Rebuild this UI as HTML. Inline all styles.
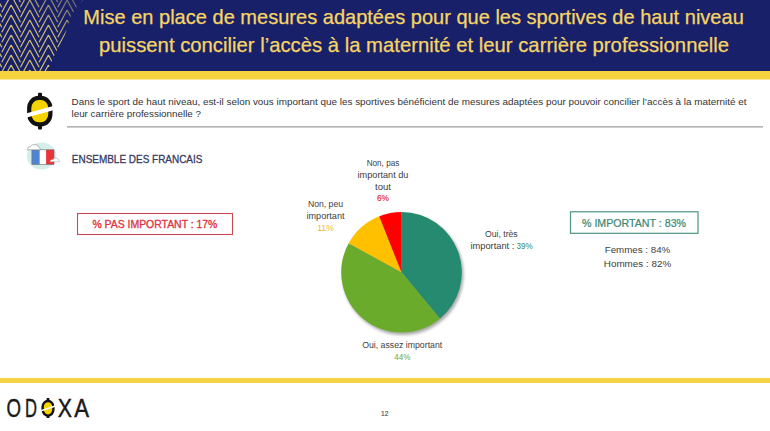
<!DOCTYPE html>
<html><head><meta charset="utf-8">
<style>
html,body{margin:0;padding:0;background:#fff;}
body{width:770px;height:431px;overflow:hidden;position:relative;font-family:"Liberation Sans",sans-serif;}
svg{position:absolute;left:0;top:0;}
</style></head><body>
<svg width="770" height="431" viewBox="0 0 770 431" font-family="Liberation Sans, sans-serif">
<defs>
<clipPath id="pc"><polygon points="0,0 83,0 71,15 65,35 57,50 47,71 0,71"/></clipPath>
<linearGradient id="pg" x1="0" y1="1" x2="1" y2="0"><stop offset="0.55" stop-color="#fff"/><stop offset="1" stop-color="#555"/></linearGradient><mask id="pm" maskUnits="userSpaceOnUse" x="0" y="0" width="90" height="71"><rect x="0" y="0" width="90" height="71" fill="url(#pg)"/></mask>
<filter id="sh" x="-20%" y="-20%" width="140%" height="140%"><feGaussianBlur stdDeviation="1.5"/></filter>
</defs>
<!-- header -->
<rect x="0" y="0" width="770" height="71" fill="#19206a"/>
<g clip-path="url(#pc)" mask="url(#pm)"><path d="M-7.56,-10.00L1.77,7.26M1.77,12.26L11.10,-5.00M-7.56,0.00L1.77,17.26M1.77,22.26L11.10,5.00M-7.56,10.00L1.77,27.26M1.77,32.26L11.10,15.00M-7.56,20.00L1.77,37.26M1.77,42.26L11.10,25.00M-7.56,30.00L1.77,47.26M1.77,52.26L11.10,35.00M-7.56,40.00L1.77,57.26M1.77,62.26L11.10,45.00M-7.56,50.00L1.77,67.26M1.77,72.26L11.10,55.00M-7.56,60.00L1.77,77.26M1.77,82.26L11.10,65.00M-7.56,70.00L1.77,87.26M1.77,92.26L11.10,75.00M11.10,-15.00L20.43,2.26M20.43,7.26L29.76,-10.00M11.10,-5.00L20.43,12.26M20.43,17.26L29.76,0.00M11.10,5.00L20.43,22.26M20.43,27.26L29.76,10.00M11.10,15.00L20.43,32.26M20.43,37.26L29.76,20.00M11.10,25.00L20.43,42.26M20.43,47.26L29.76,30.00M11.10,35.00L20.43,52.26M20.43,57.26L29.76,40.00M11.10,45.00L20.43,62.26M20.43,67.26L29.76,50.00M11.10,55.00L20.43,72.26M20.43,77.26L29.76,60.00M11.10,65.00L20.43,82.26M20.43,87.26L29.76,70.00M11.10,75.00L20.43,92.26M20.43,97.26L29.76,80.00M29.76,-10.00L39.09,7.26M39.09,12.26L48.42,-5.00M29.76,0.00L39.09,17.26M39.09,22.26L48.42,5.00M29.76,10.00L39.09,27.26M39.09,32.26L48.42,15.00M29.76,20.00L39.09,37.26M39.09,42.26L48.42,25.00M29.76,30.00L39.09,47.26M39.09,52.26L48.42,35.00M29.76,40.00L39.09,57.26M39.09,62.26L48.42,45.00M29.76,50.00L39.09,67.26M39.09,72.26L48.42,55.00M29.76,60.00L39.09,77.26M39.09,82.26L48.42,65.00M29.76,70.00L39.09,87.26M39.09,92.26L48.42,75.00M48.42,-15.00L57.75,2.26M57.75,7.26L67.08,-10.00M48.42,-5.00L57.75,12.26M57.75,17.26L67.08,0.00M48.42,5.00L57.75,22.26M57.75,27.26L67.08,10.00M48.42,15.00L57.75,32.26M57.75,37.26L67.08,20.00M48.42,25.00L57.75,42.26M57.75,47.26L67.08,30.00M48.42,35.00L57.75,52.26M57.75,57.26L67.08,40.00M48.42,45.00L57.75,62.26M57.75,67.26L67.08,50.00M48.42,55.00L57.75,72.26M57.75,77.26L67.08,60.00M48.42,65.00L57.75,82.26M57.75,87.26L67.08,70.00M48.42,75.00L57.75,92.26M57.75,97.26L67.08,80.00M67.08,-10.00L76.41,7.26M76.41,12.26L85.74,-5.00M67.08,0.00L76.41,17.26M76.41,22.26L85.74,5.00M67.08,10.00L76.41,27.26M76.41,32.26L85.74,15.00M67.08,20.00L76.41,37.26M76.41,42.26L85.74,25.00M67.08,30.00L76.41,47.26M76.41,52.26L85.74,35.00M67.08,40.00L76.41,57.26M76.41,62.26L85.74,45.00M67.08,50.00L76.41,67.26M76.41,72.26L85.74,55.00M67.08,60.00L76.41,77.26M76.41,82.26L85.74,65.00M67.08,70.00L76.41,87.26M76.41,92.26L85.74,75.00M85.74,-15.00L95.07,2.26M95.07,7.26L104.40,-10.00M85.74,-5.00L95.07,12.26M95.07,17.26L104.40,0.00M85.74,5.00L95.07,22.26M95.07,27.26L104.40,10.00M85.74,15.00L95.07,32.26M95.07,37.26L104.40,20.00M85.74,25.00L95.07,42.26M95.07,47.26L104.40,30.00M85.74,35.00L95.07,52.26M95.07,57.26L104.40,40.00M85.74,45.00L95.07,62.26M95.07,67.26L104.40,50.00M85.74,55.00L95.07,72.26M95.07,77.26L104.40,60.00M85.74,65.00L95.07,82.26M95.07,87.26L104.40,70.00M85.74,75.00L95.07,92.26M95.07,97.26L104.40,80.00" stroke="#d2bf70" stroke-width="1.2" fill="none"/></g>
<rect x="0" y="71" width="770" height="8.5" fill="#f6d33e"/>
<g fill="#f5d564" font-size="19.8" stroke="#f5d564" stroke-width="0.25">
<text x="83.3" y="24" textLength="660.5" lengthAdjust="spacingAndGlyphs">Mise en place de mesures adaptées pour que les sportives de haut niveau</text>
<text x="99" y="51.8" textLength="630" lengthAdjust="spacingAndGlyphs">puissent concilier l’accès à la maternité et leur carrière professionnelle</text>
</g>
<!-- question icon -->
<g>
<rect x="29.2" y="97.8" width="21.2" height="26.6" rx="9.5" ry="10.5" fill="#f5d300" stroke="#111" stroke-width="4.2"/>
<rect x="38" y="92.8" width="4" height="4" rx="1" fill="#111"/>
<rect x="38" y="125.4" width="4" height="4" rx="1" fill="#111"/>
<polygon points="24,114 55,105.5 56,109.5 25,118" fill="#fff"/>
</g>
<g fill="#333333" font-size="9.1">
<text x="71.5" y="105" textLength="675" lengthAdjust="spacingAndGlyphs">Dans le sport de haut niveau, est-il selon vous important que les sportives bénéficient de mesures adaptées pour pouvoir concilier l’accès à la maternité et</text>
<text x="71.5" y="116.6" textLength="129.5" lengthAdjust="spacingAndGlyphs">leur carrière professionnelle ?</text>
</g>
<rect x="67" y="126" width="696" height="1.6" fill="#b2b2b2"/>
<!-- flag icon -->
<g>
<ellipse cx="41.7" cy="156" rx="14.8" ry="13.6" fill="#d5eeea"/>
<rect x="31.9" y="149.8" width="7.9" height="14.6" fill="#4f84d2"/>
<rect x="39.8" y="149.8" width="6.3" height="14.6" fill="#ffffff"/>
<rect x="46.1" y="149.8" width="7.9" height="14.6" fill="#e9343c"/>
<rect x="31.9" y="149.8" width="22.1" height="14.6" fill="none" stroke="#6a6a6a" stroke-width="0.6"/>
<path d="M27.3,149.8 q0,-3.2 3.4,-3.4 q1.6,-2.6 4.6,-1.6 q2.8,-0.4 3.6,2.4 q1.6,0.6 1.6,2.6 z" fill="#fff" stroke="#8a8a8a" stroke-width="0.6"/>
<path d="M49.8,161.8 q0.6,-2.6 3.2,-2.4 q1.4,-2.2 3.6,-1 q2.6,0.2 2.8,3.4 z" fill="#fff" stroke="#9a9a9a" stroke-width="0.5"/>
</g>
<text x="71.8" y="163" font-size="11.6" fill="#373a62" stroke="#373a62" stroke-width="0.32" textLength="130.6" lengthAdjust="spacingAndGlyphs">ENSEMBLE DES FRANCAIS</text>
<!-- boxes -->
<rect x="77.5" y="213.5" width="155" height="21" fill="none" stroke="#c84a55" stroke-width="1.1"/>
<text x="92.4" y="228" font-size="11.2" fill="#e0343f" stroke="#e0343f" stroke-width="0.35" textLength="125" lengthAdjust="spacingAndGlyphs">% PAS IMPORTANT : 17%</text>
<rect x="570.5" y="211.8" width="127.5" height="21.5" fill="none" stroke="#4f9383" stroke-width="1.2"/>
<text x="582" y="227.2" font-size="11.2" fill="#3a8872" stroke="#3a8872" stroke-width="0.22" textLength="104" lengthAdjust="spacingAndGlyphs">% IMPORTANT : 83%</text>
<g fill="#404040" font-size="9.2" text-anchor="middle">
<text x="637.5" y="253" textLength="65.5" lengthAdjust="spacingAndGlyphs">Femmes : 84%</text>
<text x="637.5" y="266.6" textLength="67.4" lengthAdjust="spacingAndGlyphs">Hommes : 82%</text>
</g>
<!-- pie -->
<circle cx="403" cy="274.5" r="60.5" fill="#000" opacity="0.33" filter="url(#sh)"/>
<path d="M401.5,272.3 L401.50,212.00 A60.3,60.3 0 0 1 439.94,318.76 Z" fill="#268a70"/>
<path d="M401.5,272.3 L439.94,318.76 A60.3,60.3 0 0 1 348.66,243.25 Z" fill="#6bab2c"/>
<path d="M401.5,272.3 L348.66,243.25 A60.3,60.3 0 0 1 379.30,216.23 Z" fill="#ffc000"/>
<path d="M401.5,272.3 L379.30,216.23 A60.3,60.3 0 0 1 401.50,212.00 Z" fill="#ff0000"/>
<!-- labels -->
<g fill="#404040" font-size="8.4" text-anchor="middle">
<text x="383" y="166" textLength="32.7" lengthAdjust="spacingAndGlyphs">Non, pas</text>
<text x="383" y="177.8" textLength="50.8" lengthAdjust="spacingAndGlyphs">important du</text>
<text x="383" y="189.7" textLength="16" lengthAdjust="spacingAndGlyphs">tout</text>
<text x="383" y="201.2" fill="#e62530" stroke="#e62530" stroke-width="0.15" textLength="12" lengthAdjust="spacingAndGlyphs">6%</text>
<text x="325.5" y="207.3" textLength="35" lengthAdjust="spacingAndGlyphs">Non, peu</text>
<text x="325.5" y="218.5" textLength="38" lengthAdjust="spacingAndGlyphs">important</text>
<text x="325.5" y="230.5" fill="#f0b828" textLength="16.6" lengthAdjust="spacingAndGlyphs">11%</text>
<text x="501.3" y="236.6" textLength="32.8" lengthAdjust="spacingAndGlyphs">Oui, très</text>
<text x="402.2" y="347.8" textLength="80" lengthAdjust="spacingAndGlyphs">Oui, assez important</text>
<text x="402.3" y="359.6" fill="#6fa834" textLength="16.2" lengthAdjust="spacingAndGlyphs">44%</text>
</g>
<text x="470.4" y="248.6" font-size="8.4" fill="#404040" textLength="44" lengthAdjust="spacingAndGlyphs">important :</text>
<text x="516.5" y="248.6" font-size="8.4" fill="#2b8a72" textLength="16.2" lengthAdjust="spacingAndGlyphs">39%</text>
<!-- footer -->
<rect x="0" y="378" width="770" height="5" fill="#f4d345"/>
<g fill="#1a1a1a" font-size="25.2" stroke="#1a1a1a" stroke-width="0.45">
<text x="6.6" y="416.6" textLength="14.5" lengthAdjust="spacingAndGlyphs">O</text>
<text x="25" y="416.6" textLength="12" lengthAdjust="spacingAndGlyphs">D</text>
<text x="57.8" y="416.6" textLength="14.2" lengthAdjust="spacingAndGlyphs">X</text>
<text x="74.2" y="416.6" textLength="14.8" lengthAdjust="spacingAndGlyphs">A</text>
</g>
<g>
<rect x="42.6" y="401" width="10.8" height="14.6" rx="5.4" ry="6" fill="#f5d300" stroke="#111" stroke-width="2.4"/>
<rect x="46.6" y="398" width="2.8" height="3" fill="#111"/>
<rect x="46.6" y="415" width="2.8" height="3" fill="#111"/>
<polygon points="40,410.2 56,405 56.4,406.6 40.4,411.8" fill="#fff"/>
</g>
<text x="381" y="416" font-size="7.2" fill="#5a5a5a" stroke="#5a5a5a" stroke-width="0.2" textLength="7.3" lengthAdjust="spacingAndGlyphs">12</text>
</svg>
</body></html>
